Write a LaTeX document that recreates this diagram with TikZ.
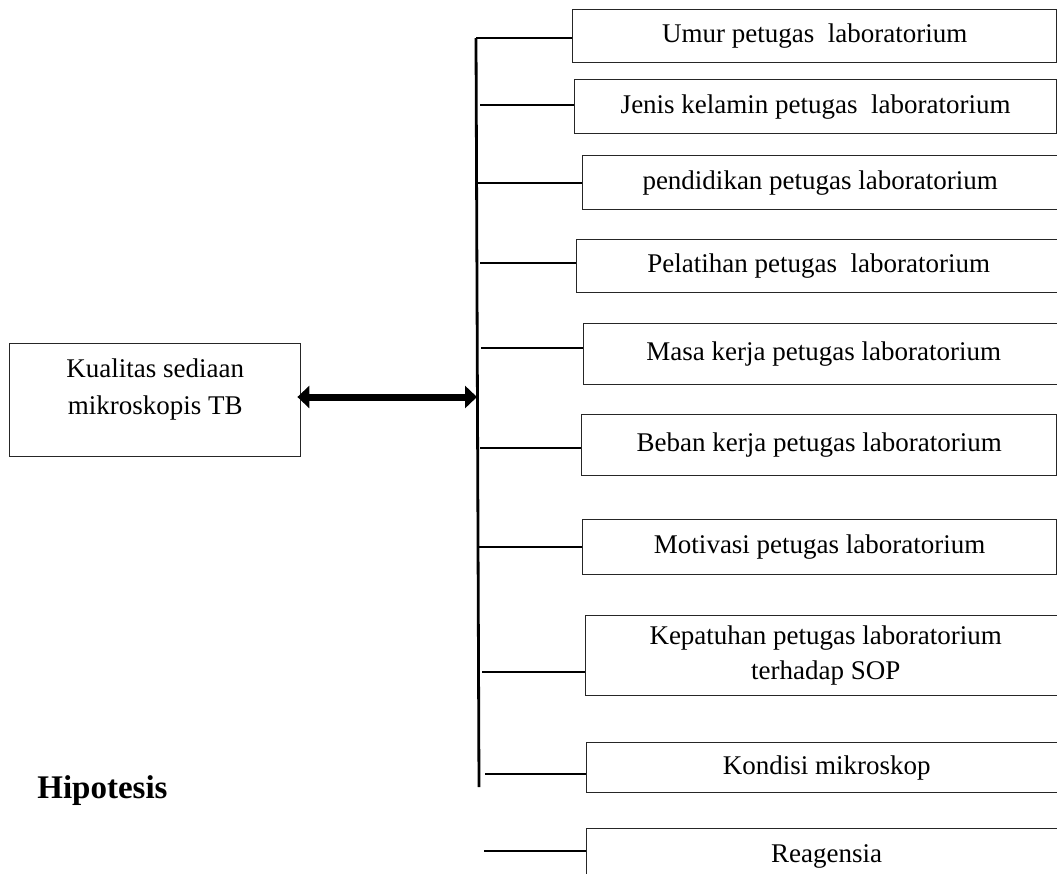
\documentclass[tikz,border=0pt]{standalone}
\usepackage{fontspec}
\setmainfont{Liberation Serif}
\usetikzlibrary{calc}
\usetikzlibrary{arrows.meta}
\usetikzlibrary{positioning}
\tikzstyle{factor} = [draw=black!85, line width=0.7pt, rectangle, anchor=north west, inner sep=0pt, align=center, font=\fontsize{13.5}{17.5}\selectfont]
\tikzstyle{link} = [line width=1.4pt]
\tikzstyle{bigarrow} = [line width=3.5pt, {Triangle[length=6pt,width=11pt]}-{Triangle[length=6pt,width=11pt]}]

\begin{document}
\begin{tikzpicture}[x=0.5pt,y=-0.5pt]
\useasboundingbox (0,0) rectangle (1057,874);
% outcome
\node[factor, minimum width=145.5pt, minimum height=56.5pt] (kualitas) at (9,343) {};
\node[font=\fontsize{13.5}{18.5}\selectfont, align=center] (kualitas_text) at ($(kualitas.center)+(0,-11)$) {Kualitas sediaan\\mikroskopis TB};
\node[font=\bfseries\fontsize{16.5}{20}\selectfont, anchor=base west, inner sep=0pt] (hipotesis) at (37,798) {Hipotesis};

% factors
\node[factor, minimum width=242pt, minimum height=26.5pt] (umur) at (572,9) {Umur petugas~ laboratorium};
\node[factor, minimum width=241pt, minimum height=27pt] (jenis) at (574,79) {Jenis kelamin petugas~ laboratorium};
\node[factor, minimum width=237.5pt, minimum height=27pt] (pendidikan) at (582,155) {pendidikan petugas laboratorium};
\node[factor, minimum width=242pt, minimum height=26.5pt] (pelatihan) at (576,239) {Pelatihan petugas~ laboratorium};
\node[factor, minimum width=240pt, minimum height=30.5pt] (masa) at (583,323) {Masa kerja petugas laboratorium};
\node[factor, minimum width=237.5pt, minimum height=30.5pt] (beban) at (581,414) {Beban kerja petugas laboratorium};
\node[factor, minimum width=237pt, minimum height=27.5pt] (motivasi) at (582,519) {Motivasi petugas laboratorium};
\node[factor, minimum width=240pt, minimum height=40pt] (kepatuhan) at (585,615) {Kepatuhan petugas laboratorium\\terhadap SOP};
\node[factor, minimum width=240pt, minimum height=25pt] (kondisi) at (586,742) {Kondisi mikroskop};
\node[factor, minimum width=240pt, minimum height=28pt] (reagensia) at (586,828) {Reagensia};

% trunk
\coordinate (trunk_top) at (476,38);
\coordinate (trunk_bot) at (479,787);
\coordinate (trunk_arrow) at (477,397);
\draw[link] (trunk_top) -- (trunk_bot);
\draw[bigarrow] ([xshift=-2pt]kualitas.east |- trunk_arrow) -- (trunk_arrow);

\coordinate (c_jenis) at (480,105);
\coordinate (c_pendidikan) at (477,183);
\coordinate (c_pelatihan) at (480,263);
\coordinate (c_masa) at (481,348);
\coordinate (c_beban) at (480,448);
\coordinate (c_motivasi) at (478,547);
\coordinate (c_kepatuhan) at (482,672);
\coordinate (c_kondisi) at (485,774);
\coordinate (c_reagensia) at (484,851);
\draw[link] (trunk_top) -- (trunk_top -| umur.west);
\draw[link] (c_jenis) -- (c_jenis -| jenis.west);
\draw[link] (c_pendidikan) -- (c_pendidikan -| pendidikan.west);
\draw[link] (c_pelatihan) -- (c_pelatihan -| pelatihan.west);
\draw[link] (c_masa) -- (c_masa -| masa.west);
\draw[link] (c_beban) -- (c_beban -| beban.west);
\draw[link] (c_motivasi) -- (c_motivasi -| motivasi.west);
\draw[link] (c_kepatuhan) -- (c_kepatuhan -| kepatuhan.west);
\draw[link] (c_kondisi) -- (c_kondisi -| kondisi.west);
\draw[link] (c_reagensia) -- (c_reagensia -| reagensia.west);
\end{tikzpicture}
\end{document}
